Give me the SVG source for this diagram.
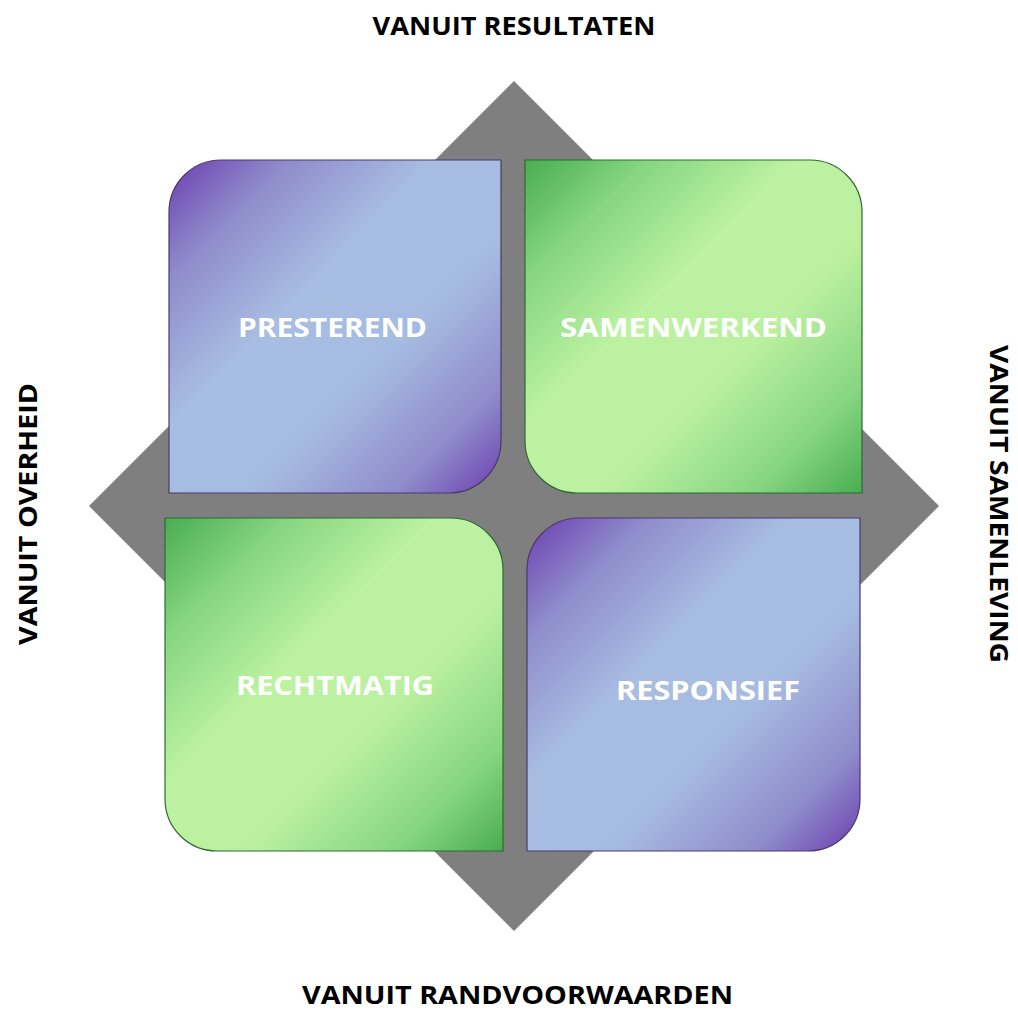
<svg xmlns="http://www.w3.org/2000/svg" width="1018" height="1010" viewBox="0 0 1018 1010">
  <style>
    .title { font-family: "Open Sans", "Liberation Sans", sans-serif; font-weight: 700; font-size: 25px; fill: #000000; }
    .label { font-family: "Open Sans", "Liberation Sans", sans-serif; font-weight: 700; font-size: 27px; fill: #ffffff; text-anchor: middle; }
    .tile { stroke-width: 1.2; }
    .purple { fill: url(#gPurple); stroke: #4a3a6a; }
    .green { fill: url(#gGreen); stroke: #2f6a32; }
  </style>
  <defs>
    <linearGradient id="gPurple" x1="0" y1="0" x2="1" y2="1">
      <stop offset="0" stop-color="#6b3db0"/>
      <stop offset="0.18" stop-color="#8f8ccb"/>
      <stop offset="0.4" stop-color="#a8bde2"/>
      <stop offset="0.62" stop-color="#a6bbe1"/>
      <stop offset="0.84" stop-color="#8f8ccb"/>
      <stop offset="1" stop-color="#6b3db0"/>
    </linearGradient>
    <linearGradient id="gGreen" x1="0" y1="0" x2="1" y2="1">
      <stop offset="0" stop-color="#49ad52"/>
      <stop offset="0.18" stop-color="#86d580"/>
      <stop offset="0.4" stop-color="#bcf2a1"/>
      <stop offset="0.62" stop-color="#baf0a0"/>
      <stop offset="0.84" stop-color="#86d580"/>
      <stop offset="1" stop-color="#49ad52"/>
    </linearGradient>
  </defs>

  <g id="background-diamond">
    <polygon points="514,81 939,506 514,931 89,506" fill="#7f7f7f"/>
  </g>

  <g id="node-presterend">
    <path class="tile purple" d="M169,212 A52,52 0 0 1 221,160 H501 V441 A52,52 0 0 1 449,493 H169 Z"/>
    <text class="label" x="332.5" y="337" textLength="189" lengthAdjust="spacingAndGlyphs">PRESTEREND</text>
  </g>

  <g id="node-samenwerkend">
    <path class="tile green" d="M525,160 H810 A52,52 0 0 1 862,212 V493 H577 A52,52 0 0 1 525,441 Z"/>
    <text class="label" x="693.5" y="337" textLength="267" lengthAdjust="spacingAndGlyphs">SAMENWERKEND</text>
  </g>

  <g id="node-rechtmatig">
    <path class="tile green" d="M165,518 H451 A52,52 0 0 1 503,570 V851 H217 A52,52 0 0 1 165,799 Z"/>
    <text class="label" x="335" y="695" textLength="198" lengthAdjust="spacingAndGlyphs">RECHTMATIG</text>
  </g>

  <g id="node-responsief">
    <path class="tile purple" d="M527,570 A52,52 0 0 1 579,518 H860 V799 A52,52 0 0 1 808,851 H527 Z"/>
    <text class="label" x="708" y="700" textLength="184" lengthAdjust="spacingAndGlyphs">RESPONSIEF</text>
  </g>

  <g id="connectors"></g>

  <g id="axis-labels">
    <text class="title" x="514" y="35" text-anchor="middle" textLength="283" lengthAdjust="spacingAndGlyphs">VANUIT RESULTATEN</text>
    <text class="title" x="517.5" y="1004" text-anchor="middle" textLength="431" lengthAdjust="spacingAndGlyphs">VANUIT RANDVOORWAARDEN</text>
    <text class="title" transform="translate(37,514) rotate(-90)" x="0" y="0" text-anchor="middle" textLength="262" lengthAdjust="spacingAndGlyphs">VANUIT OVERHEID</text>
    <text class="title" transform="translate(990,504) rotate(90)" x="0" y="0" text-anchor="middle" textLength="318" lengthAdjust="spacingAndGlyphs">VANUIT SAMENLEVING</text>
  </g>
</svg>
